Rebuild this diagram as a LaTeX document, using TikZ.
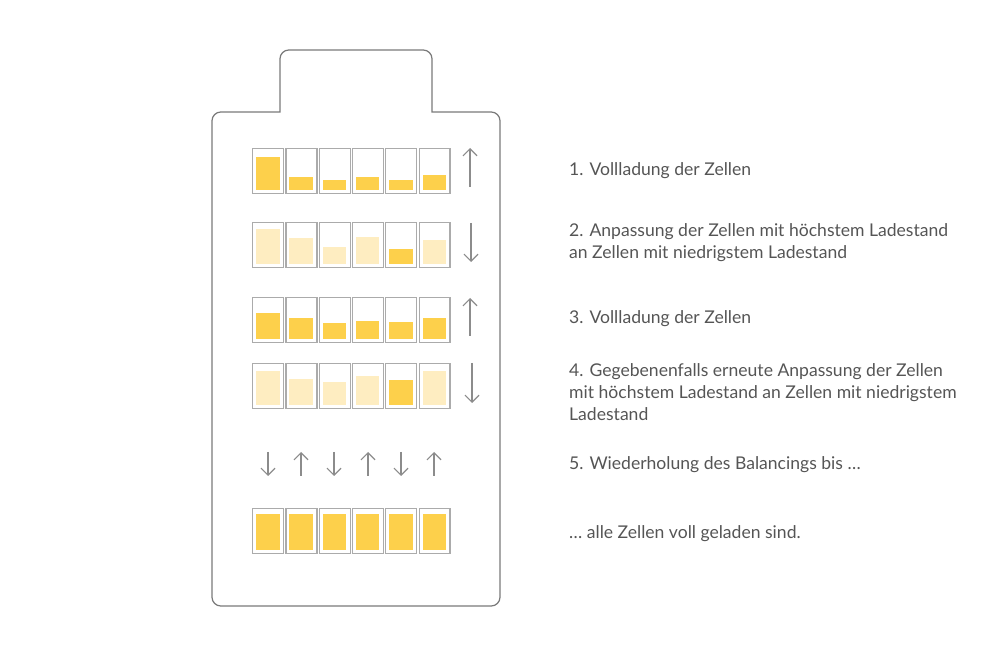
\documentclass[tikz,border=0pt]{standalone}
\usepackage{fontspec}
\setmainfont{Lato}
\usetikzlibrary{arrows.meta,calc,positioning}
\definecolor{cellgray}{HTML}{ABABAB}
\definecolor{casegray}{HTML}{7A7A7A}
\definecolor{arrowgray}{HTML}{8C8C8C}
\definecolor{textgray}{HTML}{555555}
\definecolor{charge}{HTML}{FDD04B}
\definecolor{chargelight}{HTML}{FEEDC1}
\tikzset{>={Straight Barb[length=4pt,width=8pt]}}
\tikzset{cell/.style={draw=cellgray, line width=0.7pt, fill=white, inner sep=0pt,
    minimum width=0.62cm, minimum height=0.9cm, anchor=north west}}
\tikzset{flow/.style={->, draw=arrowgray, line width=0.7pt}}
\tikzset{stepinfo/.style={anchor=west, text=textgray, align=left,
    font=\fontsize{10}{12.5}\selectfont}}

\begin{document}
\begin{tikzpicture}[x=0.02cm, y=-0.02cm]
  \useasboundingbox (0,0) rectangle (1008,665);
  % housing of the battery
  \draw[casegray, line width=0.7pt] (356,606) [rounded corners=5] -- (212,606) -- (212,112)
    [sharp corners] -- (280,112) [rounded corners=5] -- (280,50) -- (432,50)
    [sharp corners] -- (432,112) [rounded corners=5] -- (500,112) -- (500,606) -- cycle;
  % rows of cells with their charge
  \foreach \r/\yt/\levels in {
      1/148/{33/charge,13/charge,10/charge,13/charge,10/charge,15/charge},
      2/222/{35/chargelight,26/chargelight,17/chargelight,27/chargelight,15/charge,24/chargelight},
      3/297/{26/charge,21/charge,16/charge,18/charge,17/charge,21/charge},
      4/363/{34/chargelight,26/chargelight,23/chargelight,29/chargelight,25/charge,34/chargelight},
      5/508/{36/charge,36/charge,36/charge,36/charge,36/charge,36/charge}}
  {
    \foreach \h/\c [count=\i from 0] in \levels {
      \pgfmathsetmacro\xl{252+33.3*\i}
      \node[cell] (cell\r\i) at (\xl,\yt) {};
      \fill[\c] ($(cell\r\i.south west)+(4,-4)$) rectangle ++(23.5,-\h);
    }
  }
  % charging / balancing direction
  \draw[flow] (470,187) -- (470,148);
  \draw[flow] (471,223) -- (471,262);
  \draw[flow] (470,336) -- (470,298);
  \draw[flow] (472,363) -- (472,403);
  \foreach \x/\dir in {268/1,301/-1,334/1,368/-1,401/1,434/-1}
    \draw[flow] (\x,464-12*\dir) -- (\x,464+12*\dir);
  % explanation
  \node[stepinfo] (step1) at (563,171) {1. Vollladung der Zellen};
  \node[stepinfo] (step2) at (563,243) {2. Anpassung der Zellen mit höchstem Ladestand\\an Zellen mit niedrigstem Ladestand};
  \node[stepinfo] (step3) at (563,319) {3. Vollladung der Zellen};
  \node[stepinfo] (step4) at (563,392) {4. Gegebenenfalls erneute Anpassung der Zellen\\mit höchstem Ladestand an Zellen mit niedrigstem\\Ladestand};
  \node[stepinfo] (step5) at (563,465) {5. Wiederholung des Balancings bis \dots};
  \node[stepinfo] (step6) at (563,534) {\dots\ alle Zellen voll geladen sind.};
\end{tikzpicture}
\end{document}
